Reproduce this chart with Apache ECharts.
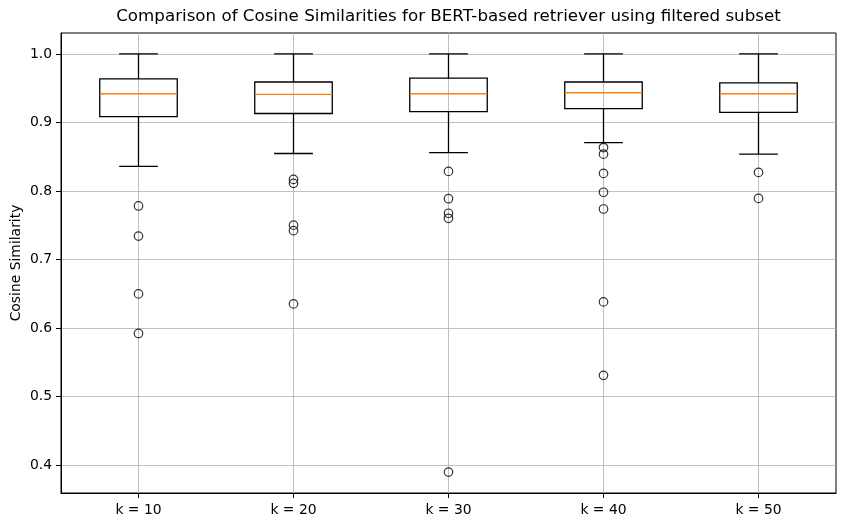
<!DOCTYPE html>
<html>
<head>
<meta charset="utf-8">
<script src="https://cdn.jsdelivr.net/npm/echarts@6/dist/echarts.min.js"></script>
<style>
html,body{margin:0;padding:0;background:#fff;}
#chart{width:846px;height:528px;}
</style>
</head>
<body>
<div id="chart"></div>
<script>
const categories = ['k = 10', 'k = 20', 'k = 30', 'k = 40', 'k = 50'];
// [lower whisker, Q1, median, Q3, upper whisker]
const boxStats = [
  [0.8357, 0.9084, 0.9418, 0.9636, 1.0],
  [0.8546, 0.9130, 0.9408, 0.9590, 1.0],
  [0.8560, 0.9157, 0.9418, 0.9645, 1.0],
  [0.8706, 0.9200, 0.9433, 0.9590, 1.0],
  [0.8536, 0.9147, 0.9418, 0.9578, 1.0]
];
const outliers10 = [0.778, 0.734, 0.6496, 0.5919];
const outliers20 = [0.8168, 0.811, 0.750, 0.742, 0.635];
const outliers30 = [0.8284, 0.7886, 0.7674, 0.760, 0.3895];
const outliers40 = [0.8633, 0.8536, 0.8255, 0.798, 0.7736, 0.638, 0.5308];
const outliers50 = [0.827, 0.789];
const yTicks = [0.4, 0.5, 0.6, 0.7, 0.8, 0.9, 1.0];

const outlierLists = [outliers10, outliers20, outliers30, outliers40, outliers50];
const outlierPoints = [];
outlierLists.forEach((arr, i) => arr.forEach(v => outlierPoints.push([i, v])));

const FONT = 'DejaVu Sans';
const Y_MIN = 0.359, Y_MAX = 1.0305;
const GRID = {left: 61, right: 10, top: 33, bottom: 35};
const chart = echarts.init(document.getElementById('chart'), null, {renderer: 'canvas'});

function renderBox(params, api) {
  const idx = api.value(0);
  const lo = api.value(1), q1 = api.value(2), med = api.value(3), q3 = api.value(4), hi = api.value(5);
  const band = api.size([1, 0])[0];
  const bw = band * 0.5, cw = band * 0.25;
  const pLo = api.coord([idx, lo]), pQ1 = api.coord([idx, q1]), pMed = api.coord([idx, med]);
  const pQ3 = api.coord([idx, q3]), pHi = api.coord([idx, hi]);
  const cx = pLo[0];
  const lineStyle = {stroke: '#000', lineWidth: 1.3, fill: null};
  return {
    type: 'group',
    children: [
      {type: 'line', shape: {x1: cx, y1: pLo[1], x2: cx, y2: pQ1[1]}, style: lineStyle},
      {type: 'line', shape: {x1: cx, y1: pQ3[1], x2: cx, y2: pHi[1]}, style: lineStyle},
      {type: 'line', shape: {x1: cx - cw / 2, y1: pLo[1], x2: cx + cw / 2, y2: pLo[1]}, style: lineStyle},
      {type: 'line', shape: {x1: cx - cw / 2, y1: pHi[1], x2: cx + cw / 2, y2: pHi[1]}, style: lineStyle},
      {type: 'rect', shape: {x: cx - bw / 2, y: pQ3[1], width: bw, height: pQ1[1] - pQ3[1]}, style: {stroke: '#000', lineWidth: 1.3, fill: null}},
      {type: 'line', shape: {x1: cx - bw / 2, y1: pMed[1], x2: cx + bw / 2, y2: pMed[1]}, style: {stroke: '#ff7f0e', lineWidth: 1.3}}
    ]
  };
}

function renderVGrid(params, api) {
  const idx = api.value(0);
  const top = api.coord([idx, Y_MAX]);
  const bot = api.coord([idx, Y_MIN]);
  return {type: 'line', shape: {x1: top[0], y1: top[1], x2: bot[0], y2: bot[1]}, style: {stroke: '#b0b0b0', lineWidth: 0.8}};
}

const option = {
  backgroundColor: '#fff',
  animation: false,
  title: {
    text: 'Comparison of Cosine Similarities for BERT-based retriever using filtered subset',
    left: GRID.left + (846 - GRID.left - GRID.right) / 2,
    textAlign: 'center',
    top: 8,
    padding: 0,
    textStyle: {fontFamily: FONT, fontSize: 16.7, fontWeight: 'normal', color: '#000'}
  },
  grid: Object.assign({containLabel: false, outerBoundsMode: 'none', show: true,
    borderColor: '#000', borderWidth: 1, backgroundColor: 'transparent'}, GRID),
  xAxis: {
    type: 'category',
    data: categories,
    boundaryGap: true,
    axisLine: {show: true, lineStyle: {color: '#000', width: 1}},
    axisTick: {show: true, alignWithLabel: true, length: 5, lineStyle: {color: '#000', width: 1}},
    axisLabel: {color: '#000', fontFamily: FONT, fontSize: 13.9, margin: 10},
    splitLine: {show: false}
  },
  yAxis: {
    type: 'value',
    min: Y_MIN, max: Y_MAX,
    name: 'Cosine Similarity',
    nameLocation: 'middle',
    nameGap: 38,
    nameMoveOverlap: false,
    nameTextStyle: {color: '#000', fontFamily: FONT, fontSize: 13.9},
    axisLine: {show: true, lineStyle: {color: '#000', width: 1}},
    axisTick: {show: true, length: 5, customValues: yTicks, lineStyle: {color: '#000', width: 1}},
    axisLabel: {color: '#000', fontFamily: FONT, fontSize: 13.9, margin: 9, customValues: yTicks,
      formatter: v => v.toFixed(1)},
    splitLine: {show: true, lineStyle: {color: '#b0b0b0', width: 0.8}}
  },
  series: [
    {
      type: 'custom',
      renderItem: renderVGrid,
      data: categories.map((c, i) => [i]),
      encode: {x: 0},
      silent: true,
      z: 1
    },
    {
      type: 'custom',
      renderItem: renderBox,
      data: boxStats.map((s, i) => [i].concat(s)),
      encode: {x: 0, y: [1, 2, 3, 4, 5]},
      z: 3
    },
    {
      type: 'scatter',
      data: outlierPoints,
      symbol: 'circle',
      symbolSize: 8.5,
      itemStyle: {color: 'rgba(0,0,0,0)', borderColor: '#000', borderWidth: 1.2},
      z: 4
    }
  ]
};
chart.setOption(option);
</script>
</body>
</html>
